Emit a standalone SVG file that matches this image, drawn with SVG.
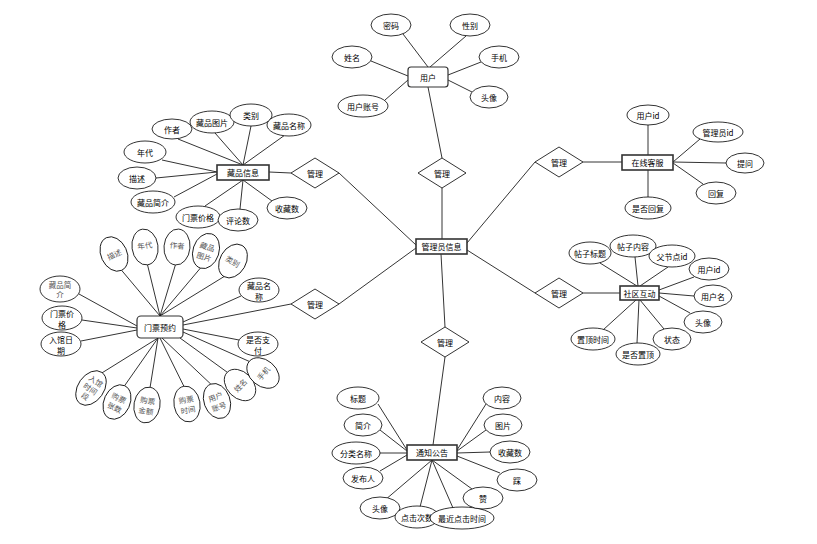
<svg xmlns="http://www.w3.org/2000/svg" width="817" height="544" viewBox="0 0 817 544">
<style>
.e{fill:#fff;stroke:#000;stroke-width:0.8}
.g{fill:#fff;stroke:#000;stroke-width:0.8}
.b{fill:#fff;stroke:#333;stroke-width:1.6}
.r{fill:#fff;stroke:#333;stroke-width:1.2}
.d{fill:#fff;stroke:#000;stroke-width:0.8}
.t{font-family:"Noto Sans CJK SC","Liberation Sans",sans-serif;font-size:8px;fill:#000;text-anchor:middle;dominant-baseline:central}
.tg{font-family:"Noto Sans CJK SC","Liberation Sans",sans-serif;font-size:7.5px;fill:#555;text-anchor:middle;dominant-baseline:central}
#links line{stroke:#000;stroke-width:0.8}
</style>
<rect width="817" height="544" fill="#fff"/>
<g id="links">
<line x1="403" y1="34" x2="428" y2="67"/>
<line x1="466" y1="36" x2="430" y2="67"/>
<line x1="481" y1="62" x2="448" y2="75"/>
<line x1="472" y1="92" x2="448" y2="80"/>
<line x1="371" y1="61" x2="408" y2="76"/>
<line x1="385" y1="100" x2="408" y2="80"/>
<line x1="428" y1="87" x2="442" y2="158"/>
<line x1="442" y1="188" x2="442" y2="239"/>
<line x1="339" y1="173" x2="416" y2="245"/>
<line x1="339" y1="304" x2="416" y2="248"/>
<line x1="445" y1="327" x2="441" y2="254"/>
<line x1="535" y1="162" x2="467" y2="243"/>
<line x1="535" y1="293" x2="467" y2="250"/>
<line x1="291" y1="173" x2="269" y2="172"/>
<line x1="291" y1="304" x2="183" y2="325"/>
<line x1="445" y1="357" x2="433" y2="445"/>
<line x1="583" y1="162" x2="622" y2="162"/>
<line x1="583" y1="293" x2="620" y2="293"/>
<line x1="648" y1="125" x2="648" y2="155"/>
<line x1="648" y1="197" x2="648" y2="170"/>
<line x1="700" y1="139" x2="673" y2="162"/>
<line x1="726" y1="163" x2="673" y2="162"/>
<line x1="703" y1="184" x2="673" y2="163"/>
<line x1="600" y1="263" x2="637" y2="286"/>
<line x1="635" y1="257" x2="638" y2="286"/>
<line x1="668" y1="267" x2="640" y2="286"/>
<line x1="694" y1="277" x2="659" y2="290"/>
<line x1="694" y1="296" x2="659" y2="293"/>
<line x1="690" y1="313" x2="659" y2="296"/>
<line x1="664" y1="329" x2="640" y2="300"/>
<line x1="637" y1="343" x2="639" y2="300"/>
<line x1="603" y1="330" x2="636" y2="300"/>
<line x1="178" y1="139" x2="243" y2="165"/>
<line x1="215" y1="133" x2="243" y2="165"/>
<line x1="251" y1="126" x2="243" y2="165"/>
<line x1="285" y1="135" x2="243" y2="165"/>
<line x1="162" y1="160" x2="217" y2="172"/>
<line x1="156" y1="178" x2="217" y2="172"/>
<line x1="174" y1="197" x2="217" y2="174"/>
<line x1="205" y1="206" x2="243" y2="180"/>
<line x1="240" y1="209" x2="243" y2="180"/>
<line x1="272" y1="201" x2="243" y2="180"/>
<line x1="121.6" y1="270.3" x2="160" y2="316"/>
<line x1="147.5" y1="264.8" x2="160" y2="316"/>
<line x1="175.4" y1="264.9" x2="160" y2="316"/>
<line x1="200.4" y1="268.1" x2="160" y2="316"/>
<line x1="224" y1="276.6" x2="160" y2="316"/>
<line x1="79" y1="294" x2="137" y2="326"/>
<line x1="82" y1="320" x2="137" y2="328"/>
<line x1="81" y1="341" x2="137" y2="330"/>
<line x1="241" y1="296" x2="183" y2="322"/>
<line x1="239" y1="340" x2="183" y2="329"/>
<line x1="101.3" y1="373.3" x2="158" y2="338"/>
<line x1="124.6" y1="385.7" x2="158" y2="338"/>
<line x1="150.1" y1="387.3" x2="158" y2="338"/>
<line x1="183.9" y1="386.3" x2="160" y2="338"/>
<line x1="210.8" y1="384.1" x2="162" y2="338"/>
<line x1="227.3" y1="372.3" x2="180" y2="338"/>
<line x1="249.2" y1="361.4" x2="183" y2="332"/>
<line x1="378" y1="404" x2="407" y2="450"/>
<line x1="380" y1="430" x2="407" y2="451"/>
<line x1="380" y1="453" x2="407" y2="453"/>
<line x1="380" y1="471" x2="407" y2="455"/>
<line x1="486" y1="404" x2="457" y2="450"/>
<line x1="486" y1="430" x2="457" y2="451"/>
<line x1="490" y1="452" x2="457" y2="453"/>
<line x1="500" y1="473" x2="457" y2="456"/>
<line x1="472" y1="489" x2="432" y2="460"/>
<line x1="453" y1="508" x2="432" y2="460"/>
<line x1="420" y1="507" x2="432" y2="460"/>
<line x1="385" y1="500" x2="432" y2="460"/>
</g>

<g id="user">
<rect class="r" x="408" y="67" width="40" height="20" rx="3"/>
<text class="t" x="428" y="77">用户</text>
</g>
<g id="u-mima"><ellipse class="e" cx="391" cy="25" rx="20" ry="11"/><text class="t" x="391" y="25">密码</text></g>
<g id="u-xingbie"><ellipse class="e" cx="470" cy="25" rx="20" ry="11"/><text class="t" x="470" y="25">性别</text></g>
<g id="u-shouji"><ellipse class="e" cx="499" cy="57" rx="20" ry="11"/><text class="t" x="499" y="57">手机</text></g>
<g id="u-touxiang"><ellipse class="e" cx="489" cy="97" rx="19" ry="11"/><text class="t" x="489" y="97">头像</text></g>
<g id="u-xingming"><ellipse class="e" cx="352" cy="57" rx="20" ry="11"/><text class="t" x="352" y="57">姓名</text></g>
<g id="u-zhanghao"><ellipse class="e" cx="363" cy="106" rx="25" ry="11"/><text class="t" x="363" y="106">用户账号</text></g>

<g id="admin">
<rect class="b" x="416" y="239" width="51" height="15"/>
<text class="t" x="441.5" y="246.5">管理员信息</text>
</g>
<g id="rel1"><polygon class="d" points="418,173 442,158 466,173 442,188"/><text class="t" x="442" y="173">管理</text></g>
<g id="rel2"><polygon class="d" points="291,173 315,158 339,173 315,188"/><text class="t" x="315" y="173">管理</text></g>
<g id="rel3"><polygon class="d" points="291,304 315,289 339,304 315,319"/><text class="t" x="315" y="304">管理</text></g>
<g id="rel4"><polygon class="d" points="421,342 445,327 469,342 445,357"/><text class="t" x="445" y="342">管理</text></g>
<g id="rel5"><polygon class="d" points="535,162 559,147 583,162 559,177"/><text class="t" x="559" y="162">管理</text></g>
<g id="rel6"><polygon class="d" points="535,293 559,278 583,293 559,308"/><text class="t" x="559" y="293">管理</text></g>

<g id="kefu">
<rect class="b" x="622" y="155" width="51" height="15"/>
<text class="t" x="647.5" y="162.5">在线客服</text>
</g>
<g id="k-yonghuid"><ellipse class="e" cx="648" cy="115" rx="21" ry="10"/><text class="t" x="648" y="115">用户id</text></g>
<g id="k-guanliyuanid"><ellipse class="e" cx="718" cy="132" rx="25" ry="10"/><text class="t" x="718" y="132">管理员id</text></g>
<g id="k-tiwen"><ellipse class="e" cx="745" cy="163" rx="19" ry="10"/><text class="t" x="745" y="163">提问</text></g>
<g id="k-huifu"><ellipse class="e" cx="716" cy="193" rx="20" ry="11"/><text class="t" x="716" y="193">回复</text></g>
<g id="k-shifouhuifu"><ellipse class="e" cx="648" cy="208" rx="23" ry="11"/><text class="t" x="648" y="208">是否回复</text></g>

<g id="shequ">
<rect class="b" x="620" y="286" width="39" height="14"/>
<text class="t" x="639.5" y="293">社区互动</text>
</g>
<g id="s-tzbt"><ellipse class="e" cx="590" cy="253" rx="21" ry="11"/><text class="t" x="590" y="253">帖子标题</text></g>
<g id="s-tznr"><ellipse class="e" cx="633" cy="246" rx="23" ry="11"/><text class="t" x="633" y="246">帖子内容</text></g>
<g id="s-fjdid"><ellipse class="e" cx="672" cy="256" rx="23" ry="11"/><text class="t" x="672" y="256">父节点id</text></g>
<g id="s-yhid"><ellipse class="e" cx="709" cy="269" rx="20" ry="11"/><text class="t" x="709" y="269">用户id</text></g>
<g id="s-yhm"><ellipse class="e" cx="713" cy="296" rx="19" ry="11"/><text class="t" x="713" y="296">用户名</text></g>
<g id="s-tx"><ellipse class="e" cx="703" cy="322" rx="19" ry="11"/><text class="t" x="703" y="322">头像</text></g>
<g id="s-zt"><ellipse class="e" cx="672" cy="339" rx="19" ry="11"/><text class="t" x="672" y="339">状态</text></g>
<g id="s-sfzd"><ellipse class="e" cx="638" cy="354" rx="22" ry="11"/><text class="t" x="638" y="354">是否置顶</text></g>
<g id="s-zdsj"><ellipse class="e" cx="593" cy="339" rx="22" ry="11"/><text class="t" x="593" y="339">置顶时间</text></g>

<g id="cangpin">
<rect class="b" x="217" y="165" width="52" height="15"/>
<text class="t" x="243" y="172.5">藏品信息</text>
</g>
<g id="c-zuozhe"><ellipse class="e" cx="172" cy="129" rx="20" ry="10"/><text class="t" x="172" y="129">作者</text></g>
<g id="c-tupian"><ellipse class="e" cx="212" cy="122" rx="22" ry="11"/><text class="t" x="212" y="122">藏品图片</text></g>
<g id="c-leibie"><ellipse class="e" cx="251" cy="115" rx="21" ry="11"/><text class="t" x="251" y="115">类别</text></g>
<g id="c-mingcheng"><ellipse class="e" cx="289" cy="125" rx="22" ry="11"/><text class="t" x="289" y="125">藏品名称</text></g>
<g id="c-niandai"><ellipse class="e" cx="145" cy="152" rx="21" ry="11"/><text class="t" x="145" y="152">年代</text></g>
<g id="c-miaoshu"><ellipse class="e" cx="137" cy="178" rx="19" ry="11"/><text class="t" x="137" y="178">描述</text></g>
<g id="c-jianjie"><ellipse class="e" cx="153" cy="202" rx="22" ry="11"/><text class="t" x="153" y="202">藏品简介</text></g>
<g id="c-jiage"><ellipse class="e" cx="198" cy="217" rx="22" ry="11"/><text class="t" x="198" y="217">门票价格</text></g>
<g id="c-pinglun"><ellipse class="e" cx="238" cy="220" rx="20" ry="11"/><text class="t" x="238" y="220">评论数</text></g>
<g id="c-shoucang"><ellipse class="e" cx="287" cy="208" rx="20" ry="11"/><text class="t" x="287" y="208">收藏数</text></g>

<g id="yuyue">
<rect class="r" x="137" y="316" width="46" height="22" rx="4"/>
<text class="t" x="160" y="327">门票预约</text>
</g>
<g id="y-miaoshu" transform="translate(114,254) rotate(-25)"><ellipse class="g" rx="13" ry="18"/><text class="tg" x="0" y="0">描述</text></g>
<g id="y-niandai" transform="translate(145,247) rotate(-8)"><ellipse class="g" rx="13" ry="18"/><text class="tg" x="0" y="-2">年代</text></g>
<g id="y-zuozhe" transform="translate(177,247) rotate(5)"><ellipse class="g" rx="13" ry="18"/><text class="tg" x="0" y="-2">作者</text></g>
<g id="y-tupian" transform="translate(206,251) rotate(18)"><ellipse class="g" rx="13" ry="18"/><text class="tg" x="0" y="-5">藏品<tspan x="0" dy="10">图片</tspan></text></g>
<g id="y-leibie" transform="translate(233,261) rotate(30)"><ellipse class="g" rx="13" ry="18"/><text class="tg" x="0" y="0">类别</text></g>
<g id="y-jianjie"><ellipse class="e" cx="60" cy="289" rx="20" ry="13"/><text class="tg" x="60" y="284">藏品简<tspan x="60" dy="10">介</tspan></text></g>
<g id="y-jiage"><ellipse class="e" cx="62" cy="318" rx="20" ry="12"/><text class="t" x="62" y="313">门票价<tspan x="62" dy="11">格</tspan></text></g>
<g id="y-riqi"><ellipse class="e" cx="61" cy="344" rx="20" ry="12"/><text class="t" x="61" y="339">入馆日<tspan x="61" dy="11">期</tspan></text></g>
<g id="y-mingcheng"><ellipse class="e" cx="259" cy="290" rx="20" ry="12"/><text class="t" x="259" y="285">藏品名<tspan x="259" dy="11">称</tspan></text></g>
<g id="y-zhifu"><ellipse class="e" cx="258" cy="344" rx="20" ry="12"/><text class="t" x="258" y="339">是否支<tspan x="258" dy="11">付</tspan></text></g>
<g id="y-shijianduan" transform="translate(91,388) rotate(35)"><ellipse class="g" rx="13" ry="19"/><text class="tg" x="0" y="-9">入馆<tspan x="0" dy="9">时间</tspan><tspan x="0" dy="9">段</tspan></text></g>
<g id="y-zhangshu" transform="translate(117,402) rotate(25)"><ellipse class="g" rx="13" ry="18"/><text class="tg" x="0" y="-5">购票<tspan x="0" dy="10">张数</tspan></text></g>
<g id="y-jine" transform="translate(147,405) rotate(10)"><ellipse class="g" rx="13" ry="18"/><text class="tg" x="0" y="-5">购票<tspan x="0" dy="10">金额</tspan></text></g>
<g id="y-goupiaoshijian" transform="translate(187,404) rotate(-10)"><ellipse class="g" rx="13" ry="18"/><text class="tg" x="0" y="-5">购票<tspan x="0" dy="10">时间</tspan></text></g>
<g id="y-zhanghao" transform="translate(217,401) rotate(-20)"><ellipse class="g" rx="13" ry="18"/><text class="tg" x="0" y="-5">用户<tspan x="0" dy="10">账号</tspan></text></g>
<g id="y-xingming" transform="translate(240,385) rotate(-45)"><ellipse class="g" rx="13" ry="18"/><text class="tg" x="0" y="0">姓名</text></g>
<g id="y-shouji" transform="translate(263,373) rotate(-50)"><ellipse class="g" rx="13" ry="18"/><text class="tg" x="0" y="0">手机</text></g>

<g id="tongzhi">
<rect class="b" x="407" y="445" width="50" height="15"/>
<text class="t" x="432" y="452.5">通知公告</text>
</g>
<g id="t-biaoti"><ellipse class="e" cx="358" cy="398" rx="21" ry="11"/><text class="t" x="358" y="398">标题</text></g>
<g id="t-jianjie"><ellipse class="e" cx="363" cy="425" rx="19" ry="11"/><text class="t" x="363" y="425">简介</text></g>
<g id="t-fenlei"><ellipse class="e" cx="356" cy="453" rx="24" ry="11"/><text class="t" x="356" y="453">分类名称</text></g>
<g id="t-faburen"><ellipse class="e" cx="363" cy="478" rx="20" ry="11"/><text class="t" x="363" y="478">发布人</text></g>
<g id="t-touxiang"><ellipse class="e" cx="380" cy="508" rx="20" ry="11"/><text class="t" x="380" y="508">头像</text></g>
<g id="t-dianji"><ellipse class="e" cx="417" cy="517" rx="22" ry="11"/><text class="t" x="417" y="517">点击次数</text></g>
<g id="t-zuijin"><ellipse class="e" cx="462" cy="518" rx="32" ry="11"/><text class="t" x="462" y="518">最近点击时间</text></g>
<g id="t-zan"><ellipse class="e" cx="483" cy="498" rx="20" ry="11"/><text class="t" x="483" y="498">赞</text></g>
<g id="t-cai"><ellipse class="e" cx="517" cy="480" rx="20" ry="11"/><text class="t" x="517" y="480">踩</text></g>
<g id="t-shoucang"><ellipse class="e" cx="510" cy="452" rx="20" ry="11"/><text class="t" x="510" y="452">收藏数</text></g>
<g id="t-tupian"><ellipse class="e" cx="503" cy="425" rx="19" ry="11"/><text class="t" x="503" y="425">图片</text></g>
<g id="t-neirong"><ellipse class="e" cx="502" cy="398" rx="19" ry="11"/><text class="t" x="502" y="398">内容</text></g>
</svg>
